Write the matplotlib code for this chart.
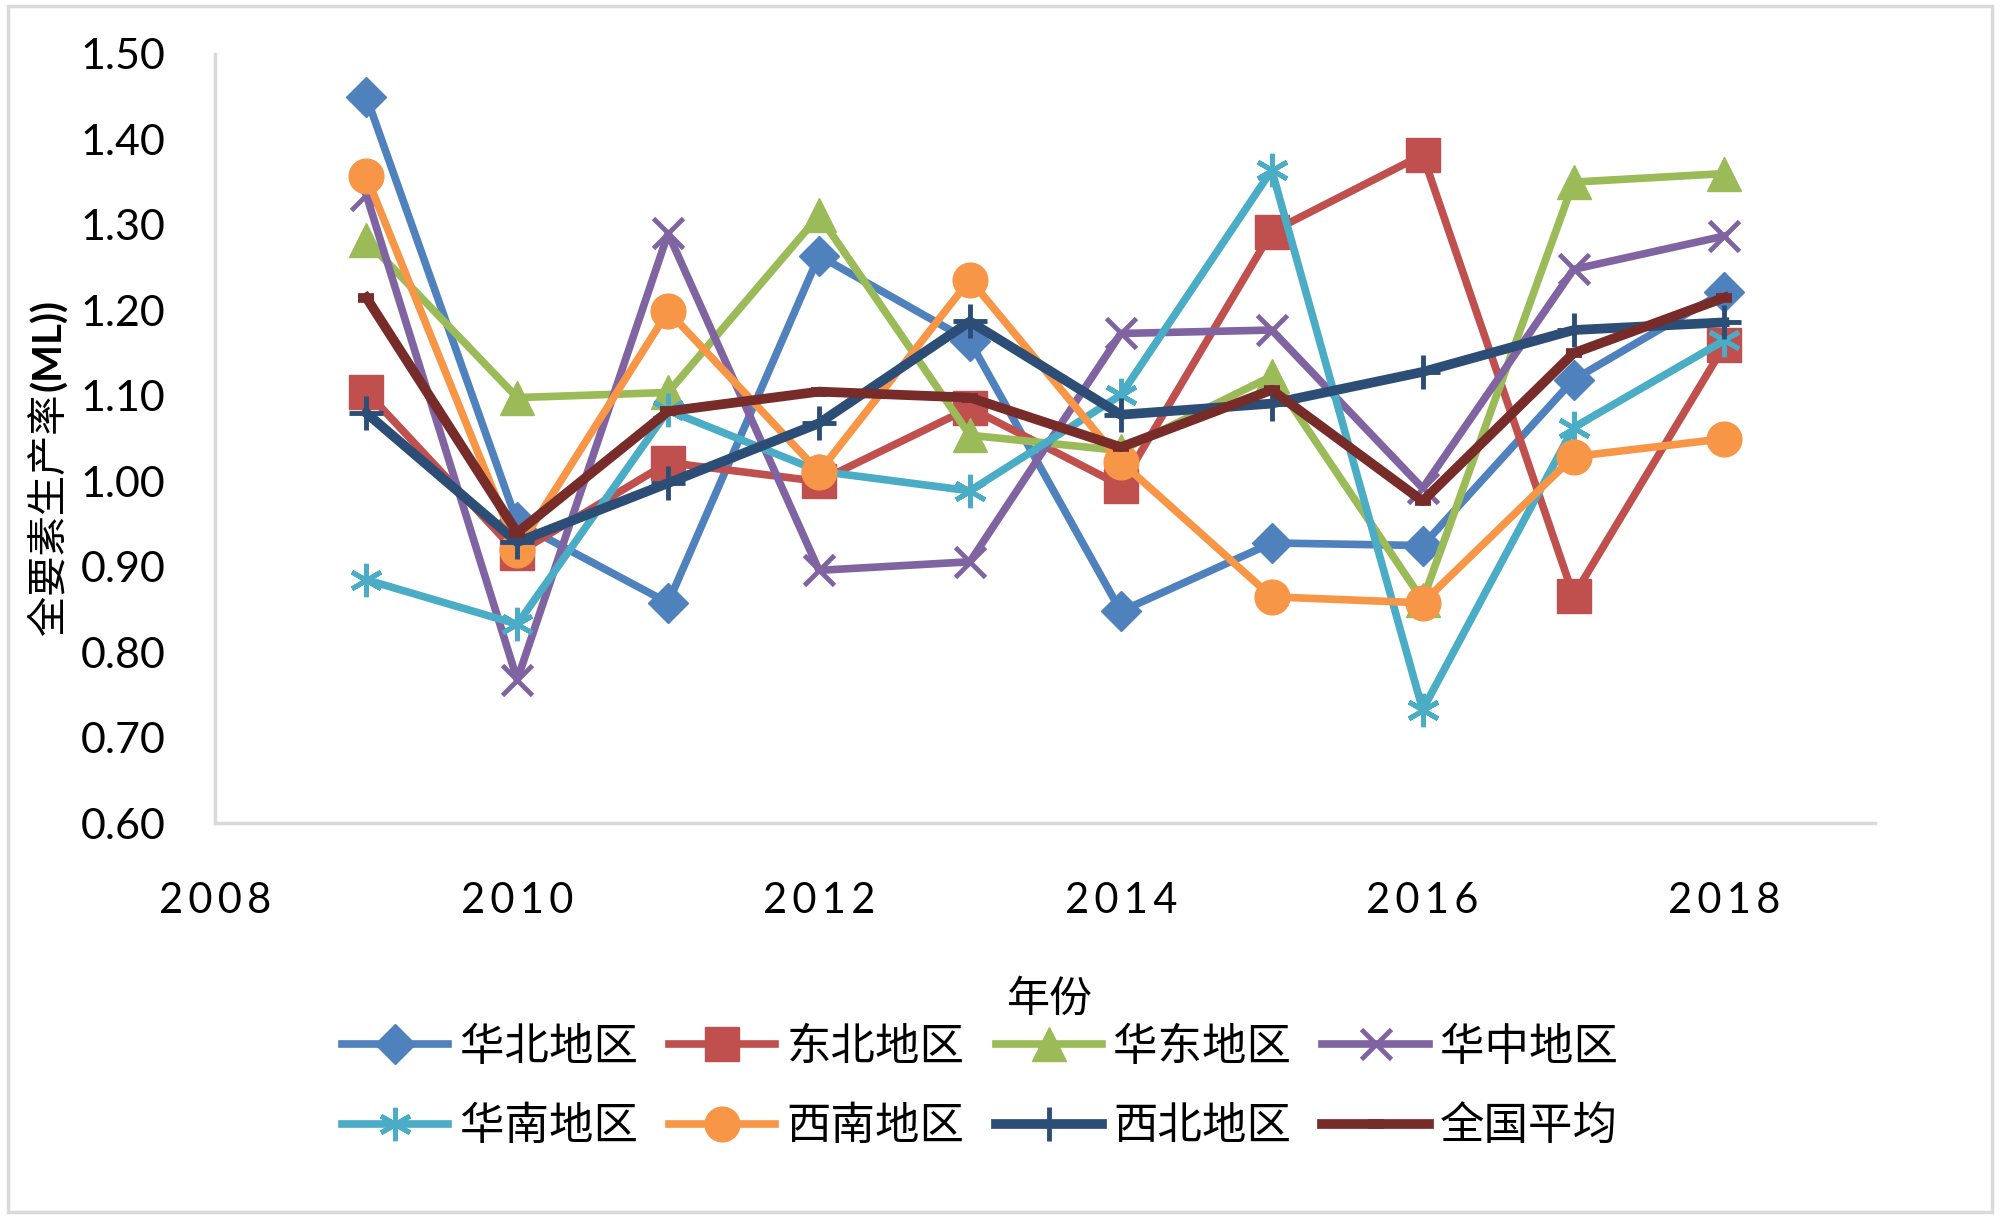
import matplotlib
matplotlib.use('Agg')
import matplotlib.pyplot as plt
import matplotlib.ticker as mticker
from matplotlib.patches import Rectangle

plt.rcParams['font.family'] = ['Lato', 'Noto Sans CJK SC', 'DejaVu Sans']

years = [2009, 2010, 2011, 2012, 2013, 2014, 2015, 2016, 2017, 2018]

huabei = [1.450, 0.952, 0.858, 1.264, 1.164, 0.848, 0.928, 0.925, 1.119, 1.222]
dongbei = [1.105, 0.916, 1.022, 1.000, 1.086, 0.995, 1.292, 1.382, 0.866, 1.159]
huadong = [1.282, 1.098, 1.104, 1.311, 1.054, 1.036, 1.123, 0.861, 1.350, 1.360]
huazhong = [1.335, 0.768, 1.290, 0.896, 0.906, 1.173, 1.177, 0.992, 1.248, 1.287]
huanan = [0.885, 0.833, 1.083, 1.012, 0.989, 1.101, 1.364, 0.733, 1.063, 1.165]
xinan = [1.357, 0.920, 1.199, 1.011, 1.236, 1.023, 0.865, 0.858, 1.029, 1.050]
xibei = [1.080, 0.929, 0.998, 1.068, 1.187, 1.078, 1.091, 1.128, 1.177, 1.186]
quanguo = [1.215, 0.940, 1.082, 1.105, 1.098, 1.040, 1.107, 0.977, 1.150, 1.215]

labels = ['华北地区', '东北地区', '华东地区', '华中地区',
          '华南地区', '西南地区', '西北地区', '全国平均']

fig = plt.figure(figsize=(20, 12.21), dpi=100)
ax = fig.add_axes([0.1077, 0.3256, 0.8300, 0.6303])

# outer chart border
fig.patches.append(Rectangle((0.004, 0.007), 0.992, 0.988, transform=fig.transFigure,
                             fill=False, edgecolor='#D9D9D9', linewidth=2.5))

lw = 5.5
lines = []
lines += ax.plot(years, huabei, color='#4F81BD', lw=lw, marker='D', markersize=20, label=labels[0])
lines += ax.plot(years, dongbei, color='#C0504D', lw=lw, marker='s', markersize=24, label=labels[1])
lines += ax.plot(years, huadong, color='#9BBB59', lw=lw, marker='^', markersize=25, label=labels[2])
lines += ax.plot(years, huazhong, color='#8064A2', lw=lw, marker='x', markersize=22, mew=3.5, label=labels[3])
lines += ax.plot(years, huanan, color='#4BACC6', lw=lw, marker=(6, 2, 0), markersize=24, mew=3.5, label=labels[4])
lines += ax.plot(years, xinan, color='#F79646', lw=lw, marker='o', markersize=25, label=labels[5])
lines += ax.plot(years, xibei, color='#2C4D75', lw=7, marker='+', markersize=24, mew=3.5, label=labels[6])
lines += ax.plot(years, quanguo, color='#772C2A', lw=7, marker='_', markersize=12, mew=7, label=labels[7])

ax.set_xlim(2008, 2019)
ax.set_ylim(0.6, 1.5)
ax.set_xticks([2008, 2010, 2012, 2014, 2016, 2018])
ax.set_yticks([0.6, 0.7, 0.8, 0.9, 1.0, 1.1, 1.2, 1.3, 1.4, 1.5])
ax.xaxis.set_major_formatter(mticker.FuncFormatter(lambda v, p: '\u2009'.join(str(int(v)))))
ax.yaxis.set_major_formatter(mticker.FormatStrFormatter('%.2f'))
ax.tick_params(axis='x', length=0, pad=42, labelsize=30)
ax.tick_params(axis='y', length=0, pad=36, labelsize=31)

for s in ['top', 'right']:
    ax.spines[s].set_visible(False)
for s in ['left', 'bottom']:
    ax.spines[s].set_color('#D9D9D9')
    ax.spines[s].set_linewidth(2.5)

# axis titles
fig.text(0.0244, 0.480, '全要素生产率', rotation=90, ha='center', va='bottom',
         fontsize=29, family=['Noto Sans CJK SC', 'DejaVu Sans'])
fig.text(0.0244, 0.680, '(ML))', rotation=90, ha='center', va='bottom',
         fontsize=29, fontweight='bold', family=['Lato', 'DejaVu Sans'])
fig.text(0.525, 0.181, '年份', ha='center', va='center', fontsize=31,
         family=['Noto Sans CJK SC', 'DejaVu Sans'])

# legend filled row by row like the original
order = [0, 4, 1, 5, 2, 6, 3, 7]
fig.legend([lines[i] for i in order], [labels[i] for i in order],
           loc='center', bbox_to_anchor=(0.490, 0.110), ncol=4, frameon=False,
           prop={'family': ['Noto Sans CJK SC', 'DejaVu Sans'], 'size': 32},
           handlelength=2.4, handletextpad=0.25, columnspacing=0.7, labelspacing=0.75)

fig.savefig('out.png', dpi=100)
